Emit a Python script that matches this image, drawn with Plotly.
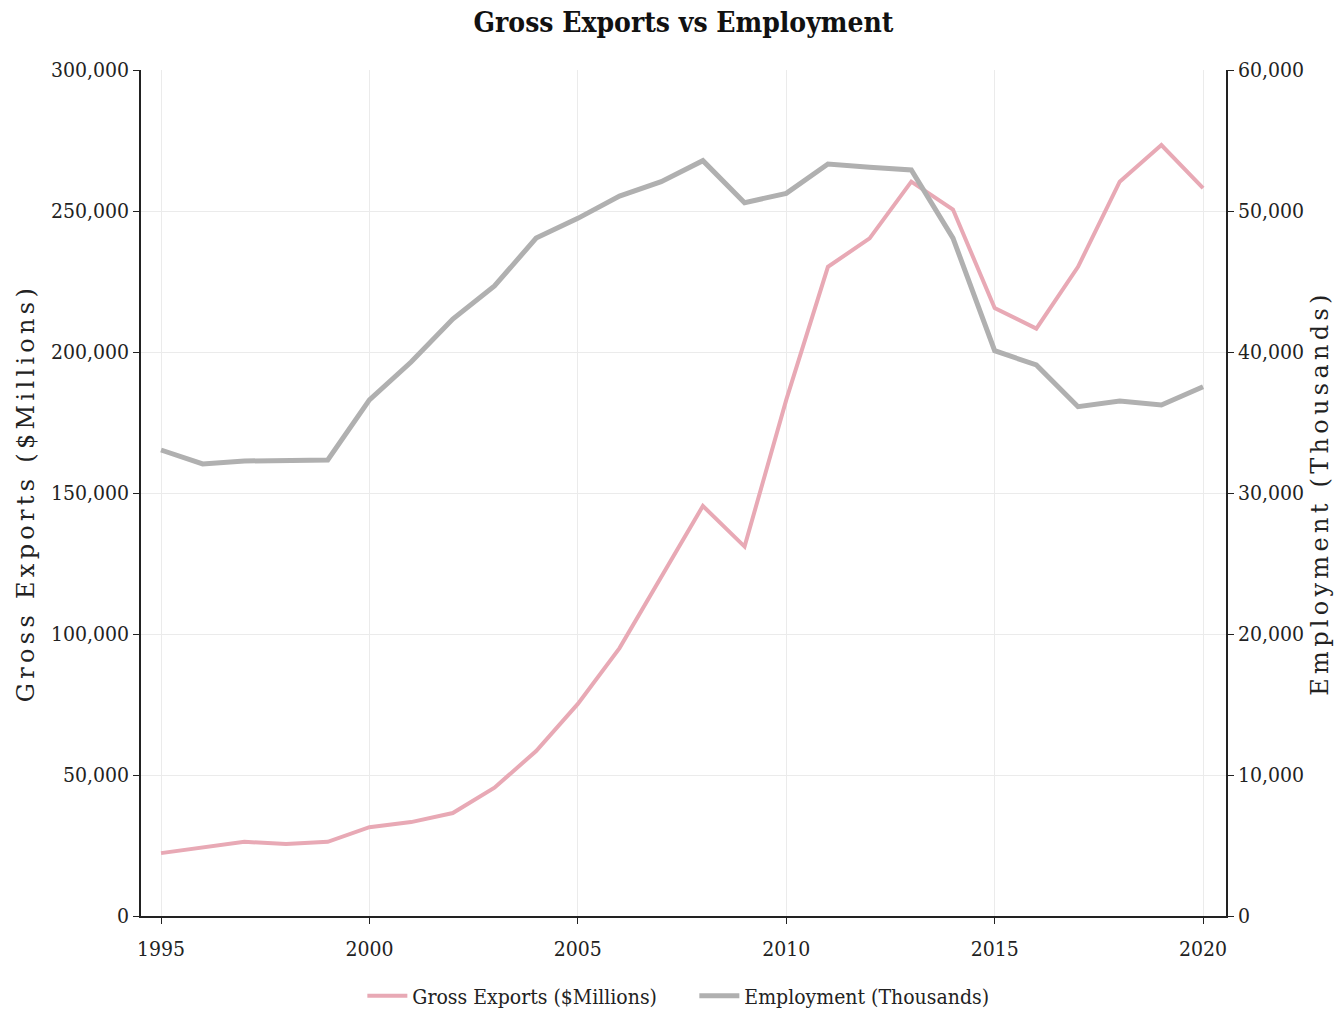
import plotly.graph_objects as go

years = list(range(1995, 2021))
gross_exports = [22300, 24300, 26300, 25500, 26300, 31500, 33300, 36500, 45500, 58500,
                 75200, 95000, 120300, 145400, 131000, 183000, 230200, 240300, 260400, 250500,
                 215600, 208300, 230200, 260400, 273400, 258100]
employment = [33050, 32060, 32270, 32270, 32340, 36600, 39290, 42340, 44680, 48080,
              49480, 51060, 52080, 53570, 50590, 51250, 53330, 53100, 52910, 48080,
              40090, 39080, 36120, 36520, 36240, 37540]

x_ticks = [1995, 2000, 2005, 2010, 2015, 2020]

TICK_FONT = dict(family="DejaVu Serif Condensed", size=21, color="#222222")
AXIS_TITLE_FONT = dict(family="DejaVu Serif", size=24, color="#222222")

fig = go.Figure()
fig.add_trace(go.Scatter(x=years, y=gross_exports, mode="lines", name="Gross Exports ($Millions)",
                         line=dict(color="#e8a9b5", width=4), yaxis="y"))
fig.add_trace(go.Scatter(x=years, y=employment, mode="lines", name="Employment (Thousands)",
                         line=dict(color="#b0b0b0", width=5), yaxis="y2"))

fig.update_layout(
    width=1337, height=1011,
    paper_bgcolor="white", plot_bgcolor="white",
    margin=dict(l=141, r=111, t=70, b=95, autoexpand=False),
    title=dict(text="<b>Gross Exports vs Employment</b>", x=0.5, xref="paper", xanchor="center",
               y=1 - 22 / 1011, yref="container", yanchor="middle",
               font=dict(family="DejaVu Serif Condensed", size=28, color="#111111")),
    xaxis=dict(range=[1994.52, 2020.55], tickvals=x_ticks, ticks="outside", ticklen=6,
               tickcolor="#222222", showline=True, linecolor="#222222", linewidth=1.5,
               showgrid=True, gridcolor="#ebebeb", gridwidth=1, zeroline=False,
               tickfont=TICK_FONT, ticklabelstandoff=7),
    yaxis=dict(range=[0, 300000], dtick=50000, tickformat=",", ticks="outside", ticklen=6,
               tickcolor="#222222", showline=True, linecolor="#222222", linewidth=1.5,
               showgrid=True, gridcolor="#ebebeb", gridwidth=1, zeroline=False,
               tickfont=TICK_FONT,
               title=dict(text="Gross Exports ($Millions)", font=AXIS_TITLE_FONT, standoff=10)),
    yaxis2=dict(range=[0, 60000], dtick=10000, tickformat=",", overlaying="y", side="right",
                ticks="outside", ticklen=6, tickcolor="#222222", showline=True,
                linecolor="#222222", linewidth=1.5, showgrid=False, zeroline=False,
                tickfont=TICK_FONT,
                title=dict(text="Employment (Thousands)", font=AXIS_TITLE_FONT, standoff=8)),
    legend=dict(orientation="h", x=0.51, xanchor="center", y=-(996 - 916) / 846, yanchor="middle",
                font=TICK_FONT, itemwidth=40, entrywidth=277, entrywidthmode="pixels",
                tracegroupgap=0, bgcolor="rgba(0,0,0,0)"),
    showlegend=True,
)

post = """
document.body.style.margin = '0';
document.body.style.padding = '0';
var gd = document.getElementsByClassName('plotly-graph-div')[0];
function spaceTitles(){
  var els = gd.querySelectorAll('.g-ytitle text, .g-y2title text');
  els.forEach(function(e){ e.style.letterSpacing = '4.3px'; });
}
spaceTitles();
gd.on('plotly_afterplot', spaceTitles);
"""

fig.write_html("out.html", post_script=post, config={"displayModeBar": False})
